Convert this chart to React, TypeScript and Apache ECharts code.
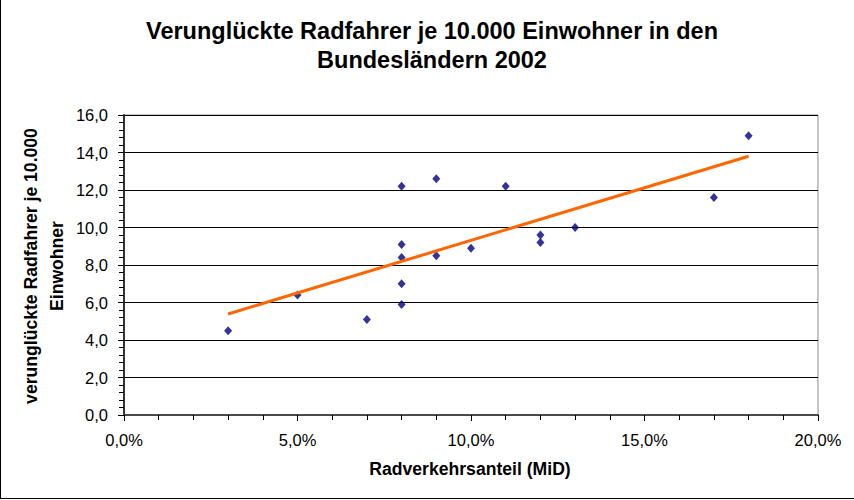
import React, { useEffect, useRef } from "react";
import * as echarts from "echarts";

// Radverkehrsanteil (MiD) in %
const radverkehrsanteil: number[] = [3, 5, 7, 8, 8, 8, 8, 8, 9, 9, 10, 11, 12, 12, 13, 17, 18];
// Verunglückte Radfahrer je 10.000 Einwohner
const verunglueckte: number[] = [4.5, 6.4, 5.1, 12.2, 9.1, 8.4, 7.0, 5.9, 12.6, 8.5, 8.9, 12.2, 9.6, 9.2, 10.0, 11.6, 14.9];

const titleLines: string[] = ["Verunglückte Radfahrer je 10.000 Einwohner in den", "Bundesländern 2002"];
const yAxisNameLines: string[] = ["verunglückte Radfahrer je 10.000", "Einwohner"];
const xAxisName = "Radverkehrsanteil (MiD)";

const xRange = { min: 0, max: 20, interval: 5 };
const yRange = { min: 0, max: 16, interval: 2 };

const FONT = "'Liberation Sans', Arial, sans-serif";

function linearTrend(xs: number[], ys: number[]): [number, number][] {
  const n = xs.length;
  const mx = xs.reduce((a, b) => a + b, 0) / n;
  const my = ys.reduce((a, b) => a + b, 0) / n;
  let sxy = 0;
  let sxx = 0;
  for (let i = 0; i < n; i++) {
    sxy += (xs[i] - mx) * (ys[i] - my);
    sxx += (xs[i] - mx) * (xs[i] - mx);
  }
  const slope = sxy / sxx;
  const intercept = my - slope * mx;
  const x0 = Math.min(...xs);
  const x1 = Math.max(...xs);
  return [
    [x0, intercept + slope * x0],
    [x1, intercept + slope * x1],
  ];
}

const fmt1 = (v: number) => v.toFixed(1).replace(".", ",");

export default function App() {
  const ref = useRef<HTMLDivElement>(null);

  useEffect(() => {
    if (!ref.current) return;
    const chart = echarts.init(ref.current, null, { renderer: "svg" });
    const points = radverkehrsanteil.map((x, i) => [x, verunglueckte[i]]);
    const trend = linearTrend(radverkehrsanteil, verunglueckte);

    chart.setOption({
      animation: false,
      backgroundColor: "#ffffff",
      grid: {
        left: 124,
        right: 36,
        top: 115,
        bottom: 85,
        show: true,
        borderColor: "#8c8c8c",
        borderWidth: 1,
        backgroundColor: "transparent",
      },
      xAxis: {
        type: "value",
        min: xRange.min,
        max: xRange.max,
        interval: xRange.interval,
        axisLine: { show: true, onZero: false, lineStyle: { color: "#4a4a4a", width: 2 } },
        axisTick: { show: true, length: 6, lineStyle: { color: "#000", width: 1 } },
        minorTick: { show: true, splitNumber: 5, length: 5, lineStyle: { color: "#000", width: 1 } },
        splitLine: { show: false },
        axisLabel: {
          margin: 16,
          color: "#000",
          fontFamily: FONT,
          fontSize: 16.5,
          formatter: (v: number) => fmt1(v) + "%",
        },
      },
      yAxis: {
        type: "value",
        min: yRange.min,
        max: yRange.max,
        interval: yRange.interval,
        axisLine: { show: true, onZero: false, lineStyle: { color: "#333", width: 2 } },
        axisTick: { show: true, length: 6, lineStyle: { color: "#000", width: 1 } },
        minorTick: { show: true, splitNumber: 5, length: 5, lineStyle: { color: "#000", width: 1 } },
        splitLine: { show: true, lineStyle: { color: "#000", width: 1 } },
        axisLabel: {
          margin: 16,
          color: "#000",
          fontFamily: FONT,
          fontSize: 16.5,
          formatter: (v: number) => fmt1(v),
        },
      },
      series: [
        {
          name: "Verunglückte",
          type: "scatter",
          data: points,
          symbol: "diamond",
          symbolSize: [8, 9],
          itemStyle: { color: "#000080" },
          z: 3,
        },
        {
          name: "Trend",
          type: "line",
          data: trend,
          symbol: "none",
          lineStyle: { color: "#FF6600", width: 3 },
          z: 4,
        },
      ],
      graphic: [
        {
          type: "text",
          x: 432,
          y: 45,
          style: {
            text: titleLines.join("\n"),
            font: `bold 23.5px ${FONT}`,
            fill: "#000",
            textAlign: "center",
            textVerticalAlign: "middle",
            lineHeight: 29,
          },
        },
        {
          type: "text",
          x: 44,
          y: 266,
          rotation: Math.PI / 2,
          style: {
            text: yAxisNameLines.join("\n"),
            font: `bold 17.6px ${FONT}`,
            fill: "#000",
            textAlign: "center",
            textVerticalAlign: "middle",
            lineHeight: 26,
          },
        },
        {
          type: "text",
          x: 470,
          y: 469,
          style: {
            text: xAxisName,
            font: `bold 17.6px ${FONT}`,
            fill: "#000",
            textAlign: "center",
            textVerticalAlign: "middle",
          },
        },
        {
          type: "line",
          shape: { x1: 0.5, y1: 0, x2: 0.5, y2: 499 },
          style: { stroke: "#000", lineWidth: 1 },
        },
        {
          type: "line",
          shape: { x1: 0, y1: 498.5, x2: 854, y2: 498.5 },
          style: { stroke: "#000", lineWidth: 1 },
        },
      ],
    });

    return () => chart.dispose();
  }, []);

  return (
    <div
      ref={ref}
      style={{ position: "fixed", left: 0, top: 0, width: 854, height: 500 }}
    />
  );
}
